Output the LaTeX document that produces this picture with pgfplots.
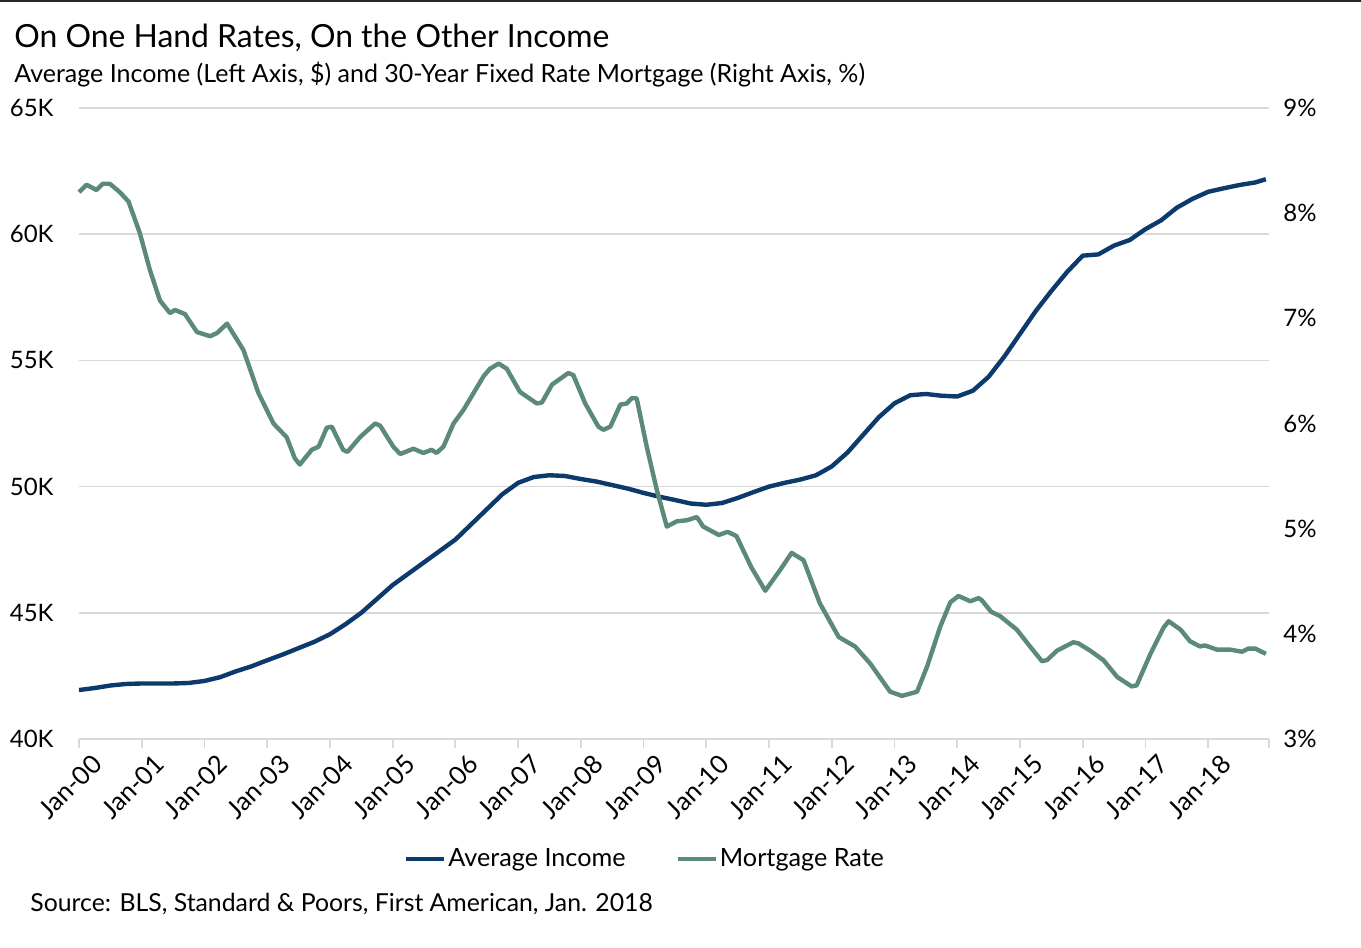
\documentclass[border=0pt]{standalone}
\usepackage{pgfplots}
\pgfplotsset{compat=1.18}
\usepackage{fontspec}
\setmainfont{Lato}
\definecolor{incblue}{HTML}{0D3A6C}
\definecolor{rategreen}{HTML}{5B8A76}
\definecolor{gridgray}{HTML}{D9D9D9}
\begin{document}
\begin{tikzpicture}
\path[use as bounding box] (0,0) rectangle (680.5pt,-474pt);
\fill[black!85] (0,0) rectangle (680.5pt,-1.2pt);
\node[anchor=base west, inner sep=0pt, font=\fontsize{15.95}{18}\selectfont] at (7pt,-23.5pt) {On One Hand Rates, On the Other Income};
\node[anchor=base west, inner sep=0pt, font=\fontsize{12.5}{14}\selectfont] at (7pt,-41pt) {Average Income (Left Axis, \$) and 30-Year Fixed Rate Mortgage (Right Axis, \%)};
\node[anchor=base west, inner sep=0pt, font=\fontsize{12.4}{14}\selectfont] at (15pt,-455.5pt) {Source: BLS, Standard \& Poors, First American, Jan. 2018};

\begin{axis}[
  at={(39.5pt,-369.5pt)}, anchor=south west, scale only axis,
  width=595pt, height=315.5pt,
  xmin=0, xmax=18.97, ymin=40, ymax=65,
  axis x line*=bottom, axis y line*=left,
  y axis line style={draw=none},
  x axis line style={gridgray, line width=0.9pt, -},
  tick align=outside, major tick length=4.5pt,
  xtick={0,1,2,3,4,5,6,7,8,9,10,11,12,13,14,15,16,17,18,18.97},
  xticklabels={Jan-00,Jan-01,Jan-02,Jan-03,Jan-04,Jan-05,Jan-06,Jan-07,Jan-08,Jan-09,Jan-10,Jan-11,Jan-12,Jan-13,Jan-14,Jan-15,Jan-16,Jan-17,Jan-18,{}},
  xtick style={gridgray, line width=0.9pt},
  ytick style={draw=none},
  ytick={40,45,50,55,60,65},
  yticklabels={40K,45K,50K,55K,60K,65K},
  ymajorgrids, grid style={gridgray, line width=0.75pt},
  /pgf/number format/assume math mode=true,
  tick label style={font=\fontsize{12}{14}\selectfont},
  xticklabel style={rotate=45, anchor=east, inner sep=0pt, yshift=-10.5pt, xshift=2.5pt, font=\fontsize{12.8}{14}\selectfont},
  yticklabel style={anchor=east, inner sep=0pt, xshift=-8pt},
  clip=false,
]
\addplot[incblue, line width=2.2pt, line join=round] coordinates {
(0.00,41.94) (0.25,42.02) (0.5,42.12) (0.75,42.18) (1.0,42.2) (1.5,42.2) (1.75,42.22)
(2.0,42.3) (2.25,42.45) (2.5,42.68) (2.75,42.88) (3.0,43.12) (3.25,43.35) (3.5,43.6)
(3.75,43.85) (4.0,44.15) (4.25,44.55) (4.5,45.0) (4.75,45.55) (5.0,46.1) (5.25,46.55)
(5.5,47.0) (5.75,47.45) (6.0,47.9) (6.25,48.5) (6.5,49.1) (6.75,49.7) (7.0,50.15)
(7.25,50.38) (7.5,50.45) (7.75,50.42) (8.0,50.3) (8.25,50.2) (8.5,50.06) (8.75,49.92)
(9.0,49.75) (9.25,49.6) (9.5,49.47) (9.75,49.33) (10.0,49.28) (10.25,49.35) (10.5,49.55)
(10.75,49.78) (11.0,50.0) (11.25,50.15) (11.5,50.28) (11.75,50.45) (12.0,50.8) (12.25,51.35)
(12.5,52.05) (12.75,52.75) (13.0,53.3) (13.25,53.62) (13.5,53.67) (13.75,53.6) (14.0,53.57)
(14.25,53.8) (14.5,54.35) (14.75,55.15) (15.0,56.05) (15.25,56.95) (15.5,57.75) (15.75,58.5)
(16.0,59.15) (16.25,59.2) (16.5,59.55) (16.75,59.77) (17.0,60.2) (17.25,60.55) (17.5,61.05)
(17.75,61.4) (18.0,61.68) (18.25,61.82) (18.5,61.95) (18.75,62.05) (18.92,62.18)
};
\end{axis}

\begin{axis}[
  at={(39.5pt,-369.5pt)}, anchor=south west, scale only axis,
  width=595pt, height=315.5pt,
  xmin=0, xmax=18.97, ymin=3, ymax=9,
  hide x axis,
  axis y line*=right,
  y axis line style={draw=none},
  ytick style={draw=none},
  ytick={3,4,5,6,7,8,9},
  yticklabels={3\%,4\%,5\%,6\%,7\%,8\%,9\%},
  /pgf/number format/assume math mode=true,
  tick label style={font=\fontsize{12}{14}\selectfont},
  yticklabel style={anchor=west, inner sep=0pt, xshift=7pt},
  legend columns=2,
  legend style={draw=none, fill=none, at={(axis description cs:0.4756,-0.19)}, anchor=center,
    font=\fontsize{12.6}{14}\selectfont, inner sep=0pt,
    nodes={inner xsep=1pt, inner ysep=1pt}},
  /tikz/every even column/.append style={column sep=24pt},
  legend image code/.code={\draw[#1] (0pt,0pt) -- (19pt,0pt);},
  clip=false,
]
\addlegendimage{incblue, line width=2.2pt}
\addlegendentry{Average Income}
\addplot[rategreen, line width=2.2pt, line join=round] coordinates {
(0.00,8.20) (0.12,8.27) (0.28,8.22) (0.38,8.28) (0.49,8.28) (0.65,8.20) (0.79,8.11)
(0.97,7.81) (1.13,7.46) (1.29,7.17) (1.45,7.05) (1.53,7.08) (1.69,7.04) (1.88,6.87)
(2.09,6.83) (2.20,6.86) (2.36,6.95) (2.62,6.70) (2.86,6.29) (3.10,6.00) (3.31,5.87)
(3.44,5.67) (3.52,5.61) (3.71,5.75) (3.82,5.78) (3.95,5.96) (4.03,5.97) (4.21,5.75)
(4.28,5.73) (4.48,5.87) (4.72,6.00) (4.80,5.98) (5.01,5.78) (5.12,5.71) (5.33,5.76)
(5.49,5.72) (5.62,5.75) (5.70,5.72) (5.81,5.78) (5.97,6.00) (6.13,6.13) (6.29,6.29)
(6.45,6.45) (6.55,6.52) (6.69,6.57) (6.82,6.52) (7.03,6.30) (7.30,6.19) (7.38,6.20)
(7.54,6.37) (7.80,6.48) (7.88,6.46) (8.07,6.19) (8.28,5.97) (8.36,5.94) (8.47,5.97)
(8.63,6.18) (8.73,6.19) (8.81,6.24) (8.89,6.24) (9.05,5.78) (9.21,5.37) (9.37,5.02)
(9.53,5.07) (9.69,5.08) (9.85,5.11) (9.95,5.02) (10.20,4.94) (10.34,4.97) (10.48,4.93)
(10.72,4.63) (10.94,4.41) (11.18,4.61) (11.36,4.77) (11.55,4.70) (11.81,4.29) (12.11,3.97)
(12.37,3.88) (12.61,3.72) (12.93,3.45) (13.12,3.41) (13.36,3.45) (13.52,3.69) (13.73,4.07)
(13.89,4.30) (14.02,4.36) (14.21,4.31) (14.34,4.34) (14.39,4.32) (14.54,4.21) (14.68,4.17)
(14.95,4.04) (15.16,3.88) (15.35,3.74) (15.43,3.75) (15.59,3.84) (15.85,3.92) (15.93,3.91)
(16.12,3.84) (16.33,3.75) (16.55,3.59) (16.78,3.50) (16.86,3.51) (17.08,3.81) (17.29,4.06)
(17.37,4.12) (17.56,4.04) (17.71,3.93) (17.87,3.88) (17.95,3.89) (18.14,3.85) (18.35,3.85)
(18.54,3.83) (18.64,3.86) (18.75,3.86) (18.92,3.81)
};
\addlegendentry{Mortgage Rate}
\end{axis}
\end{tikzpicture}
\end{document}
